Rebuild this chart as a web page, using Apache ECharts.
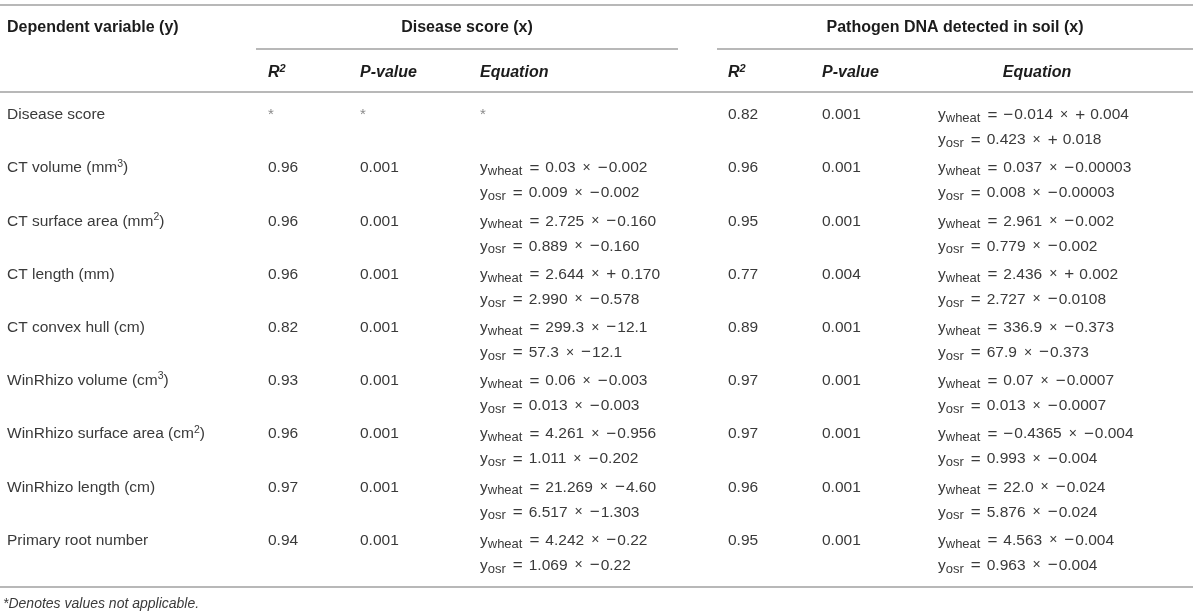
<!DOCTYPE html>
<html>
<head>
<meta charset="utf-8">
<title>Regression table</title>
<script src="https://cdn.jsdelivr.net/npm/echarts@6/dist/echarts.min.js"></script>
<style>
    html, body { margin: 0; padding: 0; background: #ffffff; }
    #chart { width: 1200px; height: 615px; }
</style>
</head>
<body>
<div id="chart"></div>
<script>
// ---- table content ----
var rowLabels = [
    'Disease score',
    'CT volume (mm^3)',
    'CT surface area (mm^2)',
    'CT length (mm)',
    'CT convex hull (cm)',
    'WinRhizo volume (cm^3)',
    'WinRhizo surface area (cm^2)',
    'WinRhizo length (cm)',
    'Primary root number'
];

var groupTitles = ['Disease score (x)', 'Pathogen DNA detected in soil (x)'];
var firstColumnTitle = 'Dependent variable (y)';
var columnTitles = ['R^2', 'P-value', 'Equation', 'R^2', 'P-value', 'Equation'];

// disease score (x)
var diseaseR2 = ['*', '0.96', '0.96', '0.96', '0.82', '0.93', '0.96', '0.97', '0.94'];
var diseaseP = ['*', '0.001', '0.001', '0.001', '0.001', '0.001', '0.001', '0.001', '0.001'];
var diseaseWheat = ['*', '0.03 × −0.002', '2.725 × −0.160', '2.644 × + 0.170', '299.3 × −12.1',
    '0.06 × −0.003', '4.261 × −0.956', '21.269 × −4.60', '4.242 × −0.22'];
var diseaseOsr = [null, '0.009 × −0.002', '0.889 × −0.160', '2.990 × −0.578', '57.3 × −12.1',
    '0.013 × −0.003', '1.011 × −0.202', '6.517 × −1.303', '1.069 × −0.22'];

// pathogen DNA detected in soil (x)
var dnaR2 = ['0.82', '0.96', '0.95', '0.77', '0.89', '0.97', '0.97', '0.96', '0.95'];
var dnaP = ['0.001', '0.001', '0.001', '0.004', '0.001', '0.001', '0.001', '0.001', '0.001'];
var dnaWheat = ['−0.014 × + 0.004', '0.037 × −0.00003', '2.961 × −0.002', '2.436 × + 0.002',
    '336.9 × −0.373', '0.07 × −0.0007', '−0.4365 × −0.004', '22.0 × −0.024', '4.563 × −0.004'];
var dnaOsr = ['0.423 × + 0.018', '0.008 × −0.00003', '0.779 × −0.002', '2.727 × −0.0108',
    '67.9 × −0.373', '0.013 × −0.0007', '0.993 × −0.004', '5.876 × −0.024', '0.963 × −0.004'];

var footnote = '*Denotes values not applicable.';

// ---- layout ----
var FONT = '"Liberation Sans", Arial, Helvetica, sans-serif';
var TEXT = '#3a3a3a';
var HEAD = '#1c1c1c';
var RULE = '#b8b8b8';
var BODY_SIZE = 15.5;
var HEAD_SIZE = 16;
var colX = [7, 268, 360, 480, 728, 822, 938];   // left edges of the columns (x axis units = px)

var RICH = {
    sub: { fontSize: 13, lineHeight: 12, verticalAlign: 'bottom', fontFamily: FONT, fill: TEXT,
        padding: [0, 2, 0, 0] },
    eq: { fontSize: 17, fontFamily: FONT, fill: TEXT, padding: [0, 6, 0, 5] },
    times: { fontSize: 14, fontFamily: FONT, fill: TEXT, padding: [0, 7, 0, 7] },
    plus: { fontSize: 17, fontFamily: FONT, fill: TEXT, padding: [0, 5, 0, 0] },
    minus: { fontSize: 17, fontFamily: FONT, fill: TEXT, padding: [0, 1, 0, 0] },
    sup: { fontSize: 10.5, lineHeight: 10, verticalAlign: 'top', fontFamily: FONT, fill: TEXT },
    hsup: { fontSize: 11, lineHeight: 10, verticalAlign: 'top', fontFamily: FONT, fill: HEAD,
        fontWeight: 'bold', fontStyle: 'italic' },
    star: { fontSize: 15, fill: '#8a8a8a', fontFamily: FONT }
};

function supText(s, tag) {
    return s.replace(/\^(\w+)/g, '{' + (tag || 'sup') + '|$1}');
}

function eqText(who, eq) {
    if (eq === '*') return '{star|*}';
    var body = eq.replace(' × ', '{times|×}')
        .replace('+ ', '{plus|+}')
        .replace(/−/g, '{minus|−}');
    return 'y{sub|' + who + '}{eq|=}' + body;
}

function cellText(s) {
    return s === '*' ? '{star|*}' : s;
}

var chart = echarts.init(document.getElementById('chart'));

function renderRow(params, api) {
    var i = params.dataIndex;
    var mid = api.coord([0, i])[1];
    var y1 = mid - 13;
    var y2 = mid + 12;
    var kids = [];

    function cell(col, y, text) {
        if (text == null) return;
        kids.push({
            type: 'text',
            x: api.coord([colX[col], i])[0],
            y: y,
            style: {
                text: text,
                fill: TEXT,
                fontFamily: FONT,
                fontSize: BODY_SIZE,
                lineHeight: 20,
                align: 'left',
                verticalAlign: 'middle',
                rich: RICH
            }
        });
    }

    cell(0, y1, supText(rowLabels[i]));
    cell(1, y1, cellText(diseaseR2[i]));
    cell(2, y1, cellText(diseaseP[i]));
    cell(3, y1, eqText('wheat', diseaseWheat[i]));
    if (diseaseOsr[i]) cell(3, y2, eqText('osr', diseaseOsr[i]));
    cell(4, y1, cellText(dnaR2[i]));
    cell(5, y1, cellText(dnaP[i]));
    cell(6, y1, eqText('wheat', dnaWheat[i]));
    cell(6, y2, eqText('osr', dnaOsr[i]));

    return { type: 'group', children: kids };
}

function headText(x, y, text, align, italic) {
    return {
        type: 'text',
        x: x, y: y,
        style: {
            text: text,
            fill: HEAD,
            fontFamily: FONT,
            fontSize: HEAD_SIZE,
            fontWeight: 'bold',
            fontStyle: italic ? 'italic' : 'normal',
            lineHeight: 20,
            align: align || 'left',
            verticalAlign: 'middle',
            rich: RICH
        }
    };
}

function rule(x1, x2, y) {
    return {
        type: 'line',
        shape: { x1: x1, y1: y, x2: x2, y2: y },
        style: { stroke: RULE, lineWidth: 2 }
    };
}

var headerY = [28, 73];
var headerGraphics = [
    rule(0, 1193, 5),
    rule(256, 678, 49),
    rule(717, 1193, 49),
    rule(0, 1193, 92),
    rule(0, 1193, 587),
    headText(7, headerY[0], firstColumnTitle),
    headText(467, headerY[0], groupTitles[0], 'center'),
    headText(955, headerY[0], groupTitles[1], 'center')
];
columnTitles.forEach(function (t, k) {
    var last = k === columnTitles.length - 1;
    headerGraphics.push(headText(last ? 1037 : colX[k + 1], headerY[1], supText(t, 'hsup'),
        last ? 'center' : 'left', true));
});
headerGraphics.push({
    type: 'text',
    x: 3, y: 604,
    style: {
        text: footnote, fill: TEXT, fontFamily: FONT, fontSize: 14,
        fontStyle: 'italic', align: 'left', verticalAlign: 'middle'
    }
});

var option = {
    animation: false,
    backgroundColor: '#ffffff',
    grid: { left: 0, right: 0, top: 101.4, height: 478.8 },
    xAxis: { type: 'value', min: 0, max: 1200, show: false },
    yAxis: {
        type: 'category', data: rowLabels, inverse: true, show: false,
        axisLabel: { show: false }
    },
    graphic: headerGraphics,
    series: [{
        type: 'custom',
        renderItem: renderRow,
        data: rowLabels.map(function (r, i) { return [0, i]; }),
        encode: { x: 0, y: 1 },
        silent: true
    }]
};

chart.setOption(option);

window.addEventListener('resize', function () {
    chart.resize();
});
</script>
</body>
</html>
